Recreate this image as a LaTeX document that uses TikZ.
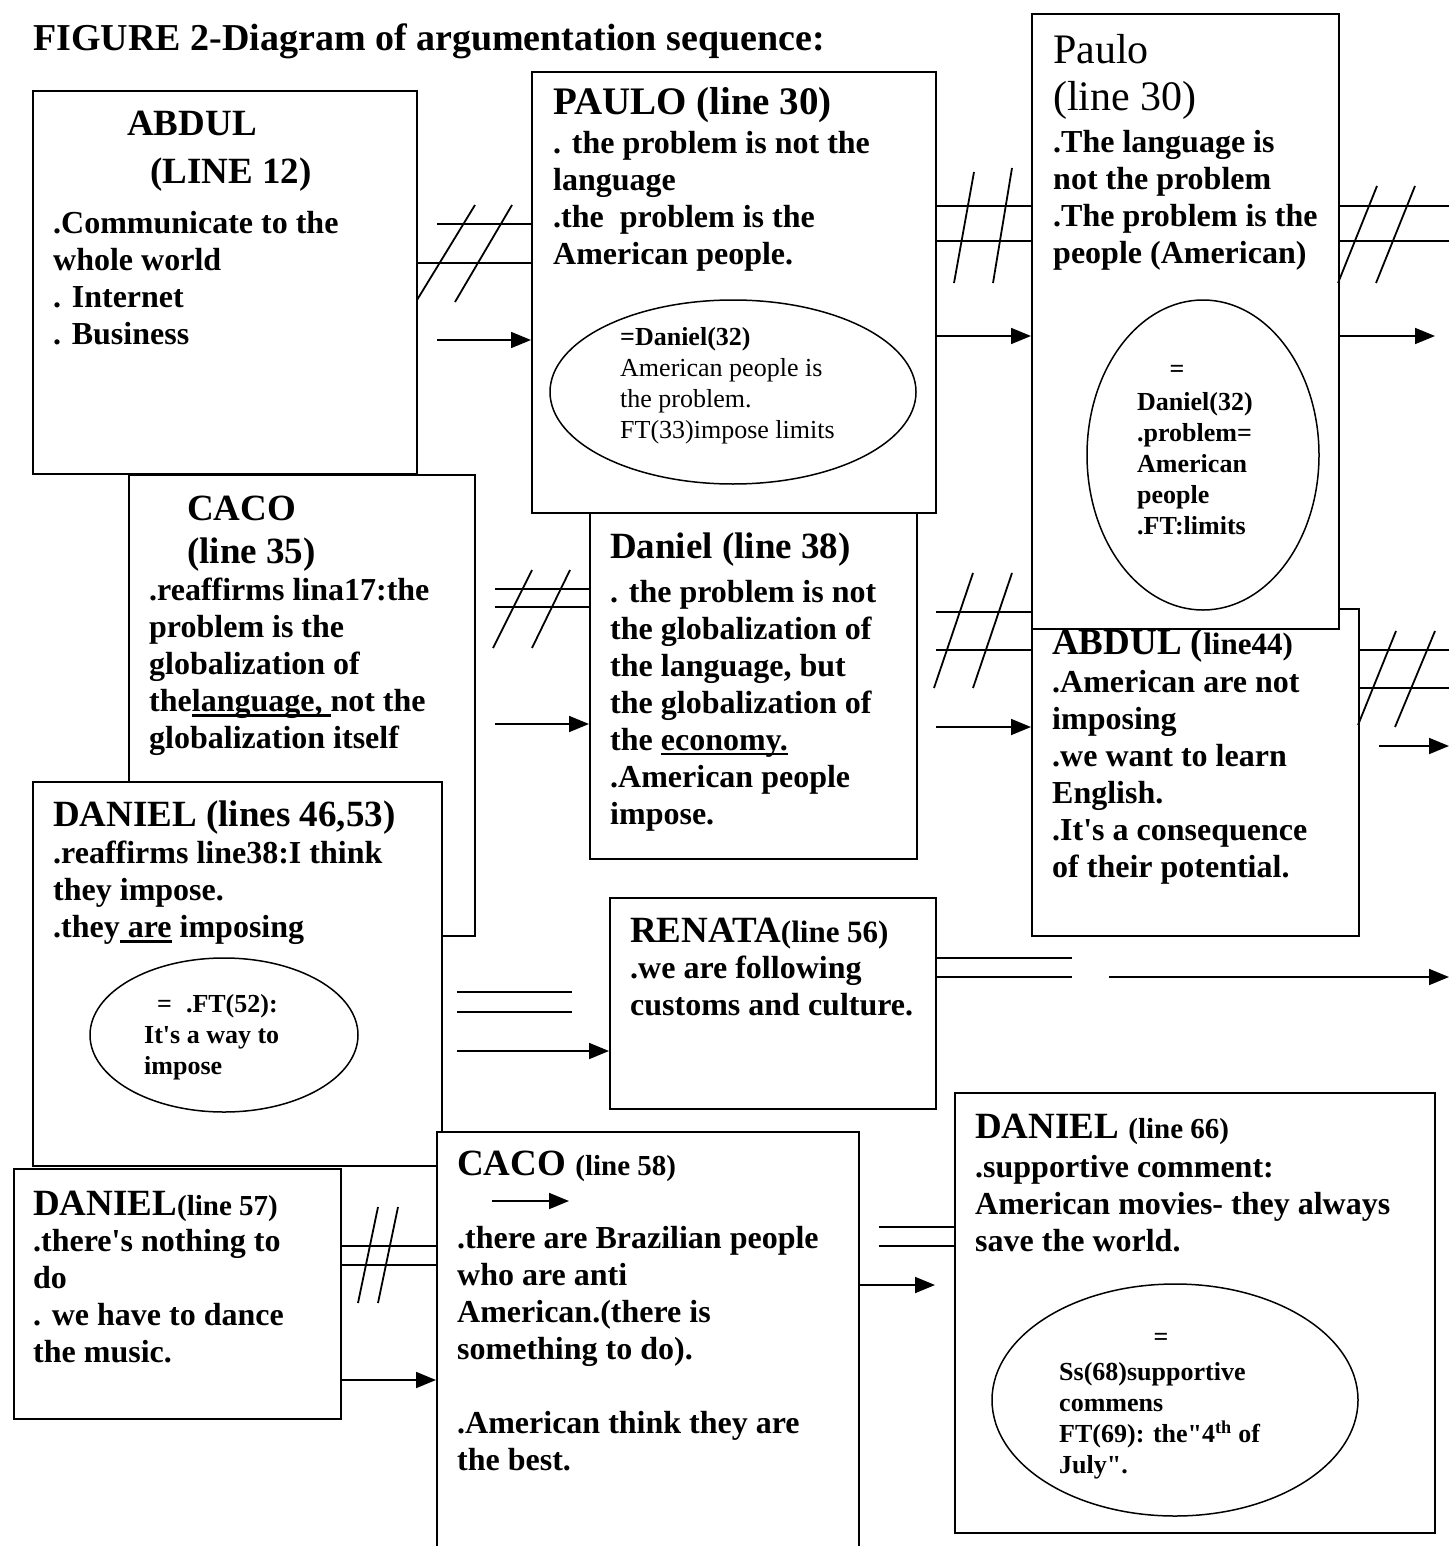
\documentclass[tikz,border=0pt]{standalone}
\usepackage{fontspec}
\setmainfont{Liberation Serif}
\usetikzlibrary{arrows.meta,calc,shapes.geometric}
\newcommand{\apos}{\textquotesingle}
\newcommand{\uln}[1]{\leavevmode\setbox0\hbox{#1}\rlap{\rule[-5pt]{\wd0}{2.6pt}}\box0\relax}

\begin{document}
\begin{tikzpicture}[x=1pt, y=-1pt, >={Triangle[length=20pt,width=16pt]},
  box/.style={draw, line width=1.8pt, fill=white, inner sep=0pt, anchor=north west},
  idea/.style={draw, ellipse, line width=1.5pt, fill=white, inner sep=0pt},
  who/.style={anchor=base west, inner sep=0pt, font=\fontsize{37}{42}\selectfont\bfseries},
  said/.style={anchor=north west, inner sep=0pt, align=left, font=\fontsize{32}{37}\selectfont\bfseries},
  aside/.style={anchor=north west, inner sep=0pt, align=left, font=\fontsize{26}{31}\selectfont\bfseries},
  link/.style={line width=1.8pt},
  push/.style={line width=1.8pt, ->}]
  \useasboundingbox (0,0) rectangle (1449,1546);

  \node[anchor=base west, inner sep=0pt, font=\fontsize{38}{42}\selectfont\bfseries] (title) at (33,51)
    {FIGURE 2-Diagram of argumentation sequence:};

  % Left column.
  \node[box, minimum width=384pt, minimum height=383pt] (abdul) at (32,90) {};
  \node[who] (abdulName) at (127,136) {ABDUL};
  \node[who] (abdulLine) at (150,184) {(LINE 12)};
  \node[said] (abdulText) at (53,211) {.Communicate to the\\whole world\\. Internet\\. Business};

  \node[box, minimum width=346pt, minimum height=461pt] (caco) at (128,474) {};
  \node[who] (cacoName) at (187,520) {CACO};
  \node[who] (cacoLine) at (187,563) {(line 35)};
  \node[said] (cacoText) at (149,578) {.reaffirms lina17:the\\problem is the\\globalization of\\the\uln{language, }not the\\globalization itself};

  \node[box, minimum width=409pt, minimum height=384pt] (danielA) at (32,781) {};
  \node[who] (danielAName) at (53,826) {DANIEL (lines 46,53)};
  \node[said] (danielAText) at (53,841) {.reaffirms line38:I think\\they impose.\\.they\uln{ are} imposing};
  \node[idea, minimum width=268pt, minimum height=154pt] (danielAIdea) at (224,1035) {};
  \node[aside] (danielAIdeaText) at (144,994) {\hspace*{13pt}=\hspace*{14pt}.FT(52):\\It\apos s a way to\\impose};

  \node[box, minimum width=422pt, minimum height=430pt] (cacoB) at (436,1131) {};
  \node[who] (cacoBName) at (457,1175) {CACO {\fontsize{29}{32}\selectfont(line 58)}};
  \draw[push] ([shift={(56,70)}]cacoB.north west) -- ++(77,0);
  \node[said] (cacoBText) at (457,1226) {.there are Brazilian people\\who are anti\\American.(there is\\something to do).\\[37pt].American think they are\\the best.};

  \node[box, minimum width=327pt, minimum height=250pt] (danielB) at (13,1168) {};
  \node[who] (danielBName) at (33,1215) {DANIEL{\fontsize{29}{32}\selectfont(line 57)}};
  \node[said] (danielBText) at (33,1229) {.there\apos s nothing to\\do\\. we have to dance\\the music.};

  % Middle column.
  \node[box, minimum width=327pt, minimum height=374pt] (danielC) at (589,484) {};
  \node[who] (danielCName) at (610,558) {Daniel (line 38)};
  \node[said] (danielCText) at (610,580) {. the problem is not\\the globalization of\\the language, but\\the globalization of\\the \uln{economy.}\\.American people\\impose.};

  \node[box, minimum width=404pt, minimum height=441pt] (paulo) at (531,71) {};
  \node[who, font=\fontsize{39}{42}\selectfont\bfseries] (pauloName) at (553,115) {PAULO (line 30)};
  \node[said] (pauloText) at (553,131) {. the problem is not the\\language\\.the\ \ problem is the\\American people.};
  \node[idea, minimum width=366pt, minimum height=184pt] (pauloIdea) at (733,392) {};
  \node[aside, font=\fontsize{26}{31}\selectfont] (pauloIdeaText) at (620,327) {{\bfseries =Daniel(32)}\\American people is\\the problem.\\FT(33)impose limits};

  \node[box, minimum width=326pt, minimum height=211pt] (renata) at (609,897) {};
  \node[who] (renataName) at (630,942) {RENATA{\fontsize{31}{34}\selectfont(line 56)}};
  \node[said] (renataText) at (630,956) {.we are following\\customs and culture.};

  % Right column.
  \node[box, minimum width=327pt, minimum height=327pt] (abdulB) at (1031,608) {};
  \node[who] (abdulBName) at (1052,654) {ABDUL ({\fontsize{31}{34}\selectfont line44)}};
  \node[said] (abdulBText) at (1052,670) {.American are not\\imposing\\.we want to learn\\English.\\.It\apos s a consequence\\of their potential.};

  \node[box, minimum width=307pt, minimum height=615pt] (pauloB) at (1031,13) {};
  \node[said, font=\fontsize{42}{47}\selectfont] (pauloBName) at (1053,34) {Paulo\\(line 30)};
  \node[said] (pauloBText) at (1053,130) {.The language is\\not the problem\\.The problem is the\\people (American)};
  \node[idea, minimum width=232pt, minimum height=310pt] (pauloBIdea) at (1203,455) {};
  \node[aside, anchor=base] (pauloBEq) at (1177,377) {=};
  \node[aside] (pauloBIdeaText) at (1137,392) {Daniel(32)\\.problem=\\American\\people\\.FT:limits};

  \node[box, minimum width=480pt, minimum height=440pt] (danielD) at (954,1092) {};
  \node[who] (danielDName) at (975,1138) {DANIEL {\fontsize{29}{32}\selectfont(line 66)}};
  \node[said] (danielDText) at (975,1155) {.supportive comment:\\American movies- they always\\save the world.};
  \node[idea, minimum width=366pt, minimum height=232pt] (danielDIdea) at (1175,1400) {};
  \node[aside, anchor=base] (danielDEq) at (1161,1345) {=};
  \node[aside] (danielDIdeaText) at (1059,1362) {Ss(68)supportive\\commens\\FT(69): the\textquotedbl4\textsuperscript{th} of\\July\textquotedbl.};

  % Abdul -> Paulo.
  \draw[link] ($(abdul.east |- 0,224)+(19,0)$) -- (paulo.west |- 0,224);
  \draw[link] (abdul.east |- 0,263) -- (paulo.west |- 0,263);
  \draw[link] (417,300) -- (475,205) (455,302) -- (512,205);
  \draw[push] ($(abdul.east |- 0,340)+(19,0)$) -- (paulo.west |- 0,340);

  % Paulo -> Paulo.
  \draw[link] (paulo.east |- 0,206) -- (pauloB.west |- 0,206);
  \draw[link] (paulo.east |- 0,241) -- (pauloB.west |- 0,241);
  \draw[link] (954,283) -- (974,172) (993,283) -- (1012,168);
  \draw[push] (paulo.east |- 0,336) -- (pauloB.west |- 0,336);

  % Paulo -> off the page.
  \draw[link] (pauloB.east |- 0,206) -- (1449,206);
  \draw[link] (pauloB.east |- 0,241) -- (1449,241);
  \draw[link] (1338,283) -- (1377,186) (1376,283) -- (1415,186);
  \draw[push] (pauloB.east |- 0,336) -- (1435,336);

  % Caco -> Daniel.
  \draw[link] ($(caco.east |- 0,589)+(19,0)$) -- (danielC.west |- 0,589);
  \draw[link] ($(caco.east |- 0,607)+(19,0)$) -- (danielC.west |- 0,607);
  \draw[link] (493,648) -- (532,570) (532,648) -- (570,570);
  \draw[push] ($(caco.east |- 0,724)+(19,0)$) -- (danielC.west |- 0,724);

  % Daniel -> Abdul.
  \draw[link] ($(danielC.east |- 0,612)+(18,0)$) -- (pauloB.west |- 0,612);
  \draw[link] ($(danielC.east |- 0,650)+(18,0)$) -- (abdulB.west |- 0,650);
  \draw[link] (934,688) -- (973,573) (973,688) -- (1012,573);
  \draw[push] ($(danielC.east |- 0,727)+(18,0)$) -- (abdulB.west |- 0,727);

  % Abdul -> off the page.
  \draw[link] (abdulB.east |- 0,650) -- (1449,650);
  \draw[link] (abdulB.east |- 0,688) -- (1449,688);
  \draw[link] (1358,725) -- (1396,631) (1395,727) -- (1435,631);
  \draw[push] ($(abdulB.east |- 0,746)+(19,0)$) -- (1449,746);

  % Daniel -> Renata.
  \draw[link] ($(danielA.east |- 0,992)+(14,0)$) -- ++(115,0);
  \draw[link] ($(danielA.east |- 0,1012)+(14,0)$) -- ++(115,0);
  \draw[push] ($(danielA.east |- 0,1051)+(14,0)$) -- (renata.west |- 0,1051);

  % Renata -> off the page.
  \draw[link] (renata.east |- 0,958) -- ++(135,0);
  \draw[link] (renata.east |- 0,977) -- ++(135,0);
  \draw[push] ($(renata.east |- 0,977)+(172,0)$) -- (1449,977);

  % Daniel -> Caco.
  \draw[link] (danielB.east |- 0,1246) -- (cacoB.west |- 0,1246);
  \draw[link] (danielB.east |- 0,1265) -- (cacoB.west |- 0,1265);
  \draw[link] (358,1303) -- (378,1207) (378,1303) -- (398,1207);
  \draw[push] (danielB.east |- 0,1380) -- (cacoB.west |- 0,1380);

  % Caco -> Daniel.
  \draw[link] ($(cacoB.east |- 0,1227)+(19,0)$) -- (danielD.west |- 0,1227);
  \draw[link] ($(cacoB.east |- 0,1246)+(19,0)$) -- (danielD.west |- 0,1246);
  \draw[push] (cacoB.east |- 0,1285) -- ($(danielD.west |- 0,1285)+(-19,0)$);
\end{tikzpicture}
\end{document}
